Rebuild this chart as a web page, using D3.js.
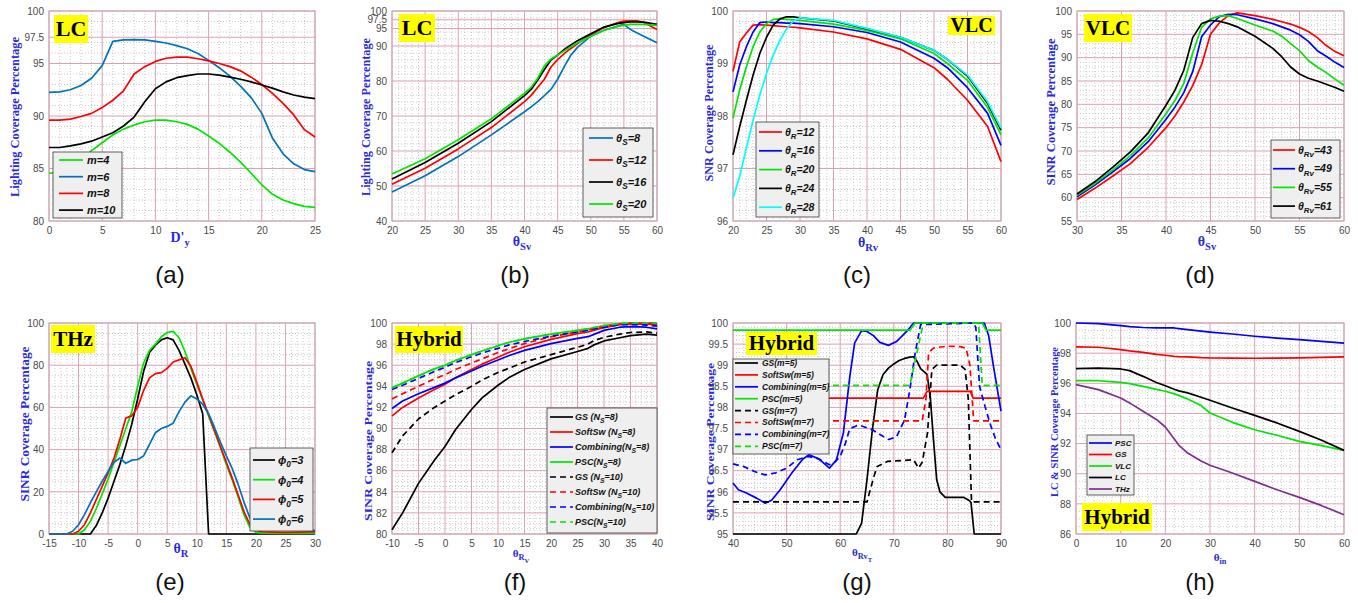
<!DOCTYPE html>
<html><head><meta charset="utf-8">
<script src="https://cdn.jsdelivr.net/npm/d3@7"></script>
<style>body{margin:0;background:#fff}svg{display:block}</style>
</head><body><svg id="c" width="1358" height="603"></svg>
<script>
// ---------------- DATA ----------------
// (a)
const aX = d3.range(0, 26);
const aM4 = [84.55,84.65,85.0,85.8,86.7,87.45,88.2,88.75,89.15,89.45,89.6,89.6,89.45,89.2,88.75,88.1,87.4,86.55,85.6,84.55,83.45,82.55,82.0,81.65,81.4,81.3];
const aM6 = [92.25,92.3,92.5,92.9,93.6,94.8,97.1,97.25,97.28,97.25,97.1,96.95,96.7,96.4,95.95,95.3,94.6,93.8,92.85,91.75,90.25,87.9,86.4,85.45,84.9,84.7];
const aM8 = [89.6,89.6,89.7,89.95,90.25,90.8,91.5,92.4,94.0,94.7,95.2,95.5,95.6,95.6,95.45,95.25,95.0,94.7,94.3,93.7,93.0,92.15,91.2,90.1,88.7,88.0];
const aM10 = [87.0,87.0,87.15,87.35,87.6,88.0,88.4,89.05,89.9,91.35,92.6,93.25,93.65,93.85,94.0,94.0,93.9,93.7,93.5,93.25,92.95,92.65,92.3,92.0,91.8,91.65];
const aLegend = ["m=4","m=6","m=8","m=10"];
const aXTicks = [0,5,10,15,20,25];
const aYTicks = [80,85,90,95,97.5,100];
// (b)
const bX = [20,25,30,35,40,41,42,43,44,45,46,47,48,50,52,54,55,56,57,58,60];
const bS8  = [48.3,52.9,58.4,64.6,71.2,72.6,74.1,75.8,77.6,80.5,84.1,87.4,89.6,92.8,94.5,95.6,96.2,94.7,93.7,92.8,90.9];
const bS12 = [50.5,55.1,60.6,66.7,74.1,75.9,78.2,80.5,84.0,86.1,87.8,89.3,90.7,93.2,95.3,96.6,97.1,97.2,97.2,96.7,94.7];
const bS16 = [52.0,56.7,62.2,68.4,75.8,77.6,80.3,83.3,86.0,87.4,89.0,90.3,91.5,93.5,95.4,96.4,96.7,96.9,96.9,96.8,96.2];
const bS20 = [53.4,57.8,63.2,69.2,76.5,78.2,80.8,84.3,86.3,87.4,88.6,89.8,90.9,92.8,94.5,95.6,95.9,96.2,96.2,96.2,95.9];
const bLegend = ["θ_{S}=8","θ_{S}=12","θ_{S}=16","θ_{S}=20"];
const bXTicks = [20,25,30,35,40,45,50,55,60];
const bYTicks = [40,50,60,70,80,90,95,97.5,100];
// (c)
const cX = [20,21,22,23,24,25,26,27,28,29,30,35,40,45,50,52,55,58,60];
const cR12 = [98.85,99.41,99.58,99.73,99.74,99.73,99.72,99.71,99.7,99.69,99.68,99.6,99.47,99.27,98.92,98.7,98.3,97.8,97.13];
const cR16 = [98.46,98.97,99.32,99.6,99.78,99.79,99.78,99.78,99.77,99.77,99.76,99.7,99.59,99.41,99.1,98.92,98.54,98.05,97.44];
const cR20 = [97.96,98.5,98.94,99.32,99.6,99.76,99.84,99.85,99.84,99.83,99.82,99.75,99.63,99.47,99.19,99.0,98.68,98.16,97.64];
const cR24 = [97.26,97.8,98.3,98.78,99.19,99.5,99.73,99.85,99.89,99.89,99.87,99.81,99.66,99.5,99.25,99.08,98.76,98.24,97.73];
const cR28 = [96.44,96.85,97.39,97.92,98.4,98.81,99.16,99.44,99.66,99.81,99.87,99.82,99.67,99.5,99.25,99.08,98.78,98.27,97.77];
const cLegend = ["θ_{R}=12","θ_{R}=16","θ_{R}=20","θ_{R}=24","θ_{R}=28"];
const cXTicks = [20,25,30,35,40,45,50,55,60];
const cYTicks = [96,97,98,99,100];
// (d)
const dX = [30,32,34,36,38,40,41,42,43,44,45,46,47,48,50,52,53,54,55,56,57,58,59,60];
const dR43 = [59.6,62.0,64.6,67.3,70.8,75.0,77.5,80.5,84.0,88.5,95.0,97.5,99.0,99.6,99.0,98.2,97.7,97.2,96.5,95.6,94.3,92.6,91.3,90.4];
const dR49 = [60.2,62.7,65.5,68.4,72.0,76.8,79.4,82.5,87.0,94.5,97.0,98.8,99.3,99.2,98.3,97.3,96.6,95.9,94.9,93.5,91.5,90.3,89.0,87.9];
const dR55 = [60.5,63.0,65.9,69.0,72.8,78.0,80.8,84.5,91.0,96.5,98.3,98.9,99.0,98.4,97.0,95.7,94.6,93.0,91.5,89.4,88.0,86.8,85.4,84.1];
const dR61 = [60.8,63.4,66.5,69.8,73.9,79.8,83.0,87.3,94.3,97.3,98.0,97.8,97.3,96.6,94.6,92.0,90.2,88.0,86.5,85.6,85.0,84.3,83.6,82.8];
const dLegend = ["θ_{Rv}=43","θ_{Rv}=49","θ_{Rv}=55","θ_{Rv}=61"];
const dXTicks = [30,35,40,45,50,55,60];
const dYTicks = [55,60,65,70,75,80,85,90,95,100];
// (e)
const eX = [-15,-12,-11,-10,-9,-8,-7,-6,-5,-4,-3,-2,-1,0,1,2,3,4,5,6,7,8,9,10,11,12,13,14,15,16,17,18,19,20,21,25,30];
const eP3 = [0,0,0,0,0,0,4,10,17,25,33,42,52,64,77,86,89.5,92,93,92,87,80.5,74,66,57,0,0,0,0,0,0,0,0,0,0,0,0];
const eP4 = [0,0,0,0,2,6,12,19,26,34,42,50,58,70,81,87,90,93.5,95.5,96,93,86.5,78.5,71,63.5,56,48.5,41,33,25.5,17.5,9,3,0.8,0.4,0.3,0.3];
const eP5 = [0,0,0,1.3,4.4,10,16.3,22.6,29,36,45,55,56,60,68,74,76,76.5,78.5,81.5,82.5,83.5,79.5,72,64,56.5,49,41.5,34,26.5,18.5,10.5,4.5,1.8,1.0,0.8,1.0];
const eP6 = [0,0,1.3,4.4,9.2,14.7,20,25,29.7,34,36,33.5,35,35.3,37,42.5,48,50,51,52.5,58,62.5,65.5,64,61.5,57,50.5,43.5,37,31,23.5,15,7.5,3.5,2.2,1.8,1.7];
const eLegend = ["ϕ_{0}=3","ϕ_{0}=4","ϕ_{0}=5","ϕ_{0}=6"];
const eXTicks = [-15,-10,-5,0,5,10,15,20,25,30];
const eYTicks = [0,20,40,60,80,100];
// (f)
const fX = [-10,-8,-5,-2,0,2,5,7,10,12,15,20,25,27,28,30,33,35,38,40];
const fGS8   = [80.4,82.0,84.8,87.0,88.3,89.9,91.8,92.9,94.1,94.8,95.6,96.6,97.3,97.6,97.9,98.3,98.6,98.8,98.95,98.85];
const fSoft8 = [91.2,92.0,92.9,93.7,94.2,94.8,95.6,96.1,96.75,97.2,97.75,98.45,99.0,99.15,99.3,99.55,99.85,99.9,99.9,99.85];
const fComb8 = [91.9,92.6,93.3,93.9,94.3,94.8,95.45,95.9,96.5,96.9,97.4,98.05,98.55,98.7,98.9,99.3,99.6,99.65,99.6,99.45];
const fPSC8  = [93.85,94.3,95.0,95.65,96.0,96.45,97.0,97.35,97.85,98.15,98.5,98.95,99.3,99.45,99.55,99.75,99.95,100,100,100];
const fGS10  = [87.7,89.3,90.9,92.0,92.6,93.2,94.0,94.6,95.3,95.7,96.3,97.0,97.7,98.0,98.3,98.65,98.95,99.1,99.15,99.05];
const fSoft10= [92.8,93.3,94.0,94.7,95.1,95.6,96.2,96.6,97.2,97.55,98.05,98.7,99.15,99.3,99.45,99.65,99.9,100,100,99.95];
const fComb10= [93.7,94.1,94.75,95.4,95.8,96.25,96.8,97.15,97.6,97.9,98.25,98.75,99.15,99.3,99.45,99.6,99.85,99.85,99.8,99.7];
const fPSC10 = [93.85,94.3,95.0,95.65,96.0,96.45,97.0,97.35,97.85,98.15,98.5,98.95,99.3,99.45,99.55,99.75,99.95,100,100,100];
const fLegend = ["GS (N_{S}=8)","SoftSw (N_{S}=8)","Combining(N_{S}=8)","PSC(N_{S}=8)","GS (N_{S}=10)","SoftSw (N_{S}=10)","Combining(N_{S}=10)","PSC(N_{S}=10)"];
const fXTicks = [-10,-5,0,5,10,15,20,25,30,35,40];
const fYTicks = [80,82,84,86,88,90,92,94,96,98,100];
// (g)
const gGS5X = [40,63,64,65,66,67,68,69,70,71,72,73,73.7,74.3,75,76.2,76.8,77.4,78,78.6,79.6,83,84,84.4,85,90];
const gGS5Y = [95,95,95.26,96.29,97.47,98.42,98.78,98.93,99.03,99.11,99.16,99.19,99.2,99.1,98.92,98.78,98.26,97.24,96.29,96.0,95.87,95.87,95.8,95.75,95,95];
const gSoft5X = [40,75.5,76.2,84.3,84.8,90];
const gSoft5Y = [98.22,98.22,98.38,98.38,98.22,98.22];
const gComb5X = [40,41,42.5,44.4,46,47.2,48.8,51,53,54.2,56,58,59.3,60.6,61.8,62.7,64,65,66.2,67.4,69,70.5,72.4,73.7,86.9,87.7,88.6,90];
const gComb5Y = [96.21,96.05,95.97,95.85,95.73,95.8,96.05,96.45,96.77,96.88,96.78,96.56,96.76,97.4,98.74,99.53,99.82,99.8,99.7,99.54,99.47,99.56,99.8,100,100,99.7,98.97,97.91];
const gPSC5X = [40,73,74,86.5,87.2,90];
const gPSC5Y = [99.83,99.83,100,100,99.83,99.83];
const gGS7X = [40,65,66.3,66.9,68.8,73.7,74.6,75.3,76.3,77.1,78,82.4,83.3,83.9,84.5,90];
const gGS7Y = [95.76,95.76,96.37,96.6,96.72,96.76,96.56,96.7,97.4,98.9,99.0,99.0,98.9,98.2,95.76,95.76];
const gSoft7X = [40,75.3,76,76.5,77.5,80,82.4,83.5,84.2,84.9,90];
const gSoft7Y = [97.68,97.68,98.2,99.3,99.41,99.45,99.44,99.4,99.0,97.68,97.68];
const gComb7X = [40,42,44,46,48,50,52,54,56,58,59,60,61,61.8,63,64,66,67.5,69,70.5,72,73,74,75,84.8,85.3,86,87,88,89,90];
const gComb7Y = [96.66,96.6,96.48,96.4,96.45,96.56,96.76,96.84,96.78,96.64,96.7,96.84,97.16,97.5,97.56,97.56,97.47,97.35,97.24,97.3,97.7,98.42,99.3,99.96,100,99.9,98.5,98.03,97.6,97.25,97.0];
const gPSC7X = [40,73,75.5,85.8,86.5,90];
const gPSC7Y = [98.52,98.52,100,100,98.52,98.52];
const gLegend = ["GS(m=5)","SoftSw(m=5)","Combining(m=5)","PSC(m=5)","GS(m=7)","SoftSw(m=7)","Combining(m=7)","PSC(m=7)"];
const gXTicks = [40,50,60,70,80,90];
const gYTicks = [95,95.5,96,96.5,97,97.5,98,98.5,99,99.5,100];
// (h)
const hX = [0,5,10,12,15,18,20,22,23,25,28,30,35,40,45,50,55,60];
const hPSC = [100,99.96,99.82,99.76,99.7,99.68,99.67,99.67,99.63,99.56,99.46,99.4,99.27,99.12,99.0,98.9,98.78,98.67];
const hGS  = [98.41,98.39,98.23,98.15,98.05,97.92,97.86,97.79,97.77,97.75,97.7,97.68,97.67,97.66,97.67,97.68,97.72,97.75];
const hVLC = [96.17,96.17,96.06,95.98,95.8,95.6,95.47,95.3,95.2,94.96,94.52,94.03,93.41,92.92,92.55,92.15,91.86,91.55];
const hLC  = [96.97,97.0,96.95,96.84,96.46,96.05,95.84,95.6,95.5,95.36,95.07,94.87,94.36,93.87,93.37,92.81,92.22,91.55];
const hTHz = [95.91,95.58,95.02,94.7,94.14,93.6,93.1,92.3,91.9,91.37,90.85,90.56,90.05,89.49,88.94,88.43,87.88,87.28];
const hLegend = ["PSC","GS","VLC","LC","THz"];
const hXTicks = [0,10,20,30,40,50,60];
const hYTicks = [86,88,90,92,94,96,98,100];

const tags = ["LC","LC","VLC","VLC","THz","Hybrid","Hybrid","Hybrid"];
const yTitles = ["Lighting Coverage Percentage","Lighting Coverage Percentage","SNR Coverage Percentage","SINR Coverage Percentage","SINR Coverage Percentage","SINR Coverage Percentage","SINR Coverage Percentage","LC & SINR Coverage Percentage"];
const xTitles = ["D'_{y}","θ_{Sv}","θ_{Rv}","θ_{Sv}","θ_{R}","θ_{R}__{V}","θ_{Rv}__{T}","θ_{in}"];
const letters = ["(a)","(b)","(c)","(d)","(e)","(f)","(g)","(h)"];

// ---------------- STYLE / LAYOUT ----------------
const MB = "#0072BD", BL = "#0000ff", RD = "#ff0000", GR = "#00e600", BK = "#000000", CY = "#00ffff", PU = "#7E2F8E";
const svg = d3.select("#c");

const panels = [
 {l:49,r:315,t:11,b:221, xd:[0,25], yd:[80,100], xt:aXTicks, yt:aYTicks, xm:1, ym:1,
  series:[{x:aX,y:aM4,c:GR},{x:aX,y:aM6,c:MB},{x:aX,y:aM8,c:RD},{x:aX,y:aM10,c:BK}], leg:aLegend,
  lg:{x:53,y:152,w:69,h:66,y0:160,dy:16.7,l1:59,l2:83,tx:87,fs:11},
  tag:{x:54,y:15,w:34,h:28,fs:22}, yl:{x:15,cy:117,len:160,fs:12}, xl:{x:180,y:242,fs:14}, lt:{x:170}},
 {l:392,r:657,t:11,b:221, xd:[20,60], yd:[40,100], xt:bXTicks, yt:bYTicks, xm:1, ym:2,
  series:[{x:bX,y:bS8,c:MB},{x:bX,y:bS12,c:RD},{x:bX,y:bS16,c:BK},{x:bX,y:bS20,c:GR}], leg:bLegend,
  lg:{x:583,y:128,w:70,h:89,y0:138,dy:22,l1:589,l2:613,tx:616,fs:11},
  tag:{x:399,y:14,w:36,h:28,fs:22}, yl:{x:366,cy:117,len:158,fs:12}, xl:{x:522,y:246,fs:14}, lt:{x:515}},
 {l:733,r:1001,t:11,b:221, xd:[20,60], yd:[96,100], xt:cXTicks, yt:cYTicks, xm:1, ym:0.2,
  series:[{x:cX,y:cR12,c:RD},{x:cX,y:cR16,c:BL},{x:cX,y:cR20,c:GR},{x:cX,y:cR24,c:BK},{x:cX,y:cR28,c:CY}], leg:cLegend,
  lg:{x:756,y:122,w:63,h:95,y0:132,dy:18.8,l1:759,l2:782,tx:785,fs:10.5},
  tag:{x:948,y:16,w:47,h:19,fs:20}, yl:{x:709,cy:113,len:137,fs:12.5}, xl:{x:868,y:247,fs:14}, lt:{x:857}},
 {l:1077,r:1344,t:11,b:221, xd:[30,60], yd:[55,100], xt:dXTicks, yt:dYTicks, xm:1, ym:1,
  series:[{x:dX,y:dR43,c:RD},{x:dX,y:dR49,c:BL},{x:dX,y:dR55,c:GR},{x:dX,y:dR61,c:BK}], leg:dLegend,
  lg:{x:1271,y:140,w:69,h:78,y0:150,dy:18.7,l1:1273,l2:1295,tx:1298,fs:10.5},
  tag:{x:1084,y:14,w:48,h:28,fs:21}, yl:{x:1051,cy:112,len:147,fs:12.5}, xl:{x:1207,y:246,fs:14}, lt:{x:1200}},
 {l:49,r:315,t:323,b:534, xd:[-15,30], yd:[0,100], xt:eXTicks, yt:eYTicks, xm:1, ym:5,
  series:[{x:eX,y:eP3,c:BK},{x:eX,y:eP4,c:GR},{x:eX,y:eP5,c:RD},{x:eX,y:eP6,c:MB}], leg:eLegend,
  lg:{x:250,y:448,w:63,h:83,y0:460,dy:19.7,l1:253,l2:275,tx:278,fs:11},
  tag:{x:51,y:325,w:44,h:28,fs:21}, yl:{x:25,cy:424,len:155,fs:12.5}, xl:{x:181,y:553,fs:14}, lt:{x:170}},
 {l:392,r:657,t:323,b:534, xd:[-10,40], yd:[80,100], xt:fXTicks, yt:fYTicks, xm:1, ym:0.5,
  series:[{x:fX,y:fPSC8,c:GR},{x:fX,y:fGS8,c:BK},{x:fX,y:fSoft8,c:RD},{x:fX,y:fComb8,c:BL},
          {x:fX,y:fGS10,c:BK,d:1},{x:fX,y:fSoft10,c:RD,d:1},{x:fX,y:fComb10,c:BL,d:1},{x:fX,y:fPSC10,c:GR,d:1}],
  legOrder:[1,2,3,0,4,5,6,7], leg:fLegend,
  lg:{x:547,y:408,w:110,h:125,y0:417,dy:15,l1:550,l2:573,tx:575,fs:9},
  tag:{x:395,y:326,w:68,h:27,fs:21}, yl:{x:368,cy:441,len:160,fs:11}, xl:{x:521,y:557,fs:11}, lt:{x:515}},
 {l:733,r:1001,t:323,b:534, xd:[40,90], yd:[95,100], xt:gXTicks, yt:gYTicks, xm:2, ym:0.1,
  series:[{x:gGS5X,y:gGS5Y,c:BK},{x:gSoft5X,y:gSoft5Y,c:RD},{x:gComb5X,y:gComb5Y,c:BL},{x:gPSC5X,y:gPSC5Y,c:GR},
          {x:gGS7X,y:gGS7Y,c:BK,d:1},{x:gSoft7X,y:gSoft7Y,c:RD,d:1},{x:gComb7X,y:gComb7Y,c:BL,d:1},{x:gPSC7X,y:gPSC7Y,c:GR,d:1}],
  leg:gLegend,
  lg:{x:733,y:359,w:96,h:95,y0:363,dy:11.9,l1:735,l2:758,tx:762,fs:8.5},
  tag:{x:746,y:332,w:71,h:23,fs:21}, yl:{x:710,cy:442,len:158,fs:11}, xl:{x:862,y:556,fs:11}, lt:{x:857}},
 {l:1076,r:1344,t:323,b:534, xd:[0,60], yd:[86,100], xt:hXTicks, yt:hYTicks, xm:2, ym:0.5,
  series:[{x:hX,y:hPSC,c:BL},{x:hX,y:hGS,c:RD},{x:hX,y:hVLC,c:GR},{x:hX,y:hLC,c:BK},{x:hX,y:hTHz,c:PU}], leg:hLegend,
  lg:{x:1087,y:435,w:47,h:60,y0:443,dy:11.5,l1:1089,l2:1112,tx:1115,fs:8},
  tag:{x:1082,y:503,w:70,h:28,fs:21}, yl:{x:1054,cy:422,len:150,fs:10.5}, xl:{x:1220,y:561,fs:11}, lt:{x:1200}}
];

function rich(sel, str, fs) {
  const parts = str.split(/(__\{[^}]*\}|_\{[^}]*\})/).filter(s => s.length);
  let cur = 0;
  parts.forEach(p => {
    let lvl = 0, t = p;
    if (p.startsWith("__{")) { lvl = 2; t = p.slice(3, -1); }
    else if (p.startsWith("_{")) { lvl = 1; t = p.slice(2, -1); }
    const off = lvl === 0 ? 0 : (lvl === 1 ? fs * 0.3 : fs * 0.55);
    const size = lvl === 0 ? fs : (lvl === 1 ? fs * 0.75 : fs * 0.6);
    sel.append("tspan").attr("dy", off - cur).attr("font-size", size).text(t);
    cur = off;
  });
}
function steps(a, b, s) {
  const n = Math.round((b - a) / s);
  return d3.range(n + 1).map(i => +(a + i * s).toFixed(6));
}

panels.forEach((p, i) => {
  const g = svg.append("g");
  const x = d3.scaleLinear().domain(p.xd).range([p.l, p.r]);
  const y = d3.scaleLinear().domain(p.yd).range([p.b, p.t]);
  const isMaj = (arr, v) => arr.some(t => Math.abs(t - v) < 1e-6);
  // minor grid
  const mg = g.append("g").attr("stroke", "#bdbdbd").attr("stroke-width", 0.8).attr("stroke-dasharray", "1,2");
  steps(p.xd[0], p.xd[1], p.xm).filter(v => !isMaj(p.xt, v)).forEach(v =>
    mg.append("line").attr("x1", x(v)).attr("x2", x(v)).attr("y1", p.t).attr("y2", p.b));
  steps(p.yd[0], p.yd[1], p.ym).filter(v => !isMaj(p.yt, v)).forEach(v =>
    mg.append("line").attr("y1", y(v)).attr("y2", y(v)).attr("x1", p.l).attr("x2", p.r));
  // major grid
  const Mg = g.append("g").attr("stroke", "#dba2b2").attr("stroke-width", 1);
  p.xt.forEach(v => Mg.append("line").attr("x1", x(v)).attr("x2", x(v)).attr("y1", p.t).attr("y2", p.b));
  p.yt.forEach(v => Mg.append("line").attr("y1", y(v)).attr("y2", y(v)).attr("x1", p.l).attr("x2", p.r));
  g.append("rect").attr("x", p.l).attr("y", p.t).attr("width", p.r - p.l).attr("height", p.b - p.t)
    .attr("fill", "none").attr("stroke", "#c9a6b0").attr("stroke-width", 1);
  // axes (labels only)
  const ax = g.append("g").attr("transform", `translate(0,${p.b})`)
    .call(d3.axisBottom(x).tickValues(p.xt).tickSize(0).tickPadding(6).tickFormat(d => String(d)));
  const ay = g.append("g").attr("transform", `translate(${p.l},0)`)
    .call(d3.axisLeft(y).tickValues(p.yt).tickSize(0).tickPadding(5).tickFormat(d => String(d)));
  [ax, ay].forEach(a => {
    a.select(".domain").remove();
    a.selectAll("text").attr("font-family", "Liberation Sans, Arial, sans-serif").attr("font-size", 10).attr("fill", "#4a4a4a");
  });
  // clip
  const cid = "clip" + i;
  svg.append("clipPath").attr("id", cid).append("rect")
    .attr("x", p.l - 1).attr("y", p.t - 2).attr("width", p.r - p.l + 2).attr("height", p.b - p.t + 4);
  const lines = g.append("g").attr("clip-path", `url(#${cid})`);
  const lg = d3.line().x(d => x(d[0])).y(d => y(d[1]));
  p.series.forEach(s => {
    lines.append("path").datum(d3.zip(s.x, s.y)).attr("d", lg)
      .attr("fill", "none").attr("stroke", s.c).attr("stroke-width", 1.7)
      .attr("stroke-linejoin", "round")
      .attr("stroke-dasharray", s.d ? "6,4" : null);
  });
  // legend
  const L = p.lg;
  const lgG = g.append("g");
  lgG.append("rect").attr("x", L.x).attr("y", L.y).attr("width", L.w).attr("height", L.h)
    .attr("fill", "#efefef").attr("stroke", "#3a3a3a").attr("stroke-width", 0.8);
  const order = p.legOrder || p.series.map((_, k) => k);
  order.forEach((si, k) => {
    const s = p.series[si];
    const yy = L.y0 + k * L.dy;
    lgG.append("line").attr("x1", L.l1).attr("x2", L.l2).attr("y1", yy).attr("y2", yy)
      .attr("stroke", s.c).attr("stroke-width", 1.7).attr("stroke-dasharray", s.d ? "6,4" : null);
    const t = lgG.append("text").attr("x", L.tx).attr("y", yy + L.fs * 0.35)
      .attr("font-family", "Liberation Sans, Arial, sans-serif").attr("font-weight", "bold")
      .attr("font-style", "italic").attr("fill", "#111");
    rich(t, p.leg[k], L.fs);
  });
  // tag
  const T = p.tag;
  g.append("rect").attr("x", T.x).attr("y", T.y).attr("width", T.w).attr("height", T.h).attr("fill", "#ffff00");
  g.append("text").attr("x", T.x + T.w / 2).attr("y", T.y + T.h / 2 + T.fs * 0.33)
    .attr("text-anchor", "middle").attr("font-family", "Liberation Serif, Times New Roman, serif")
    .attr("font-weight", "bold").attr("font-size", T.fs).attr("fill", "#000").text(tags[i]);
  // y title
  g.append("text").attr("transform", `translate(${p.yl.x},${p.yl.cy}) rotate(-90)`)
    .attr("x", -p.yl.len / 2).attr("dominant-baseline", "central")
    .attr("textLength", p.yl.len).attr("lengthAdjust", "spacingAndGlyphs")
    .attr("font-family", "Liberation Serif, Times New Roman, serif").attr("font-weight", "bold")
    .attr("font-size", p.yl.fs).attr("fill", "#2a2ad8").text(yTitles[i]);
  // x title
  const xt = g.append("text").attr("x", p.xl.x).attr("y", p.xl.y).attr("text-anchor", "middle")
    .attr("font-family", "Liberation Serif, Times New Roman, serif").attr("font-weight", "bold")
    .attr("fill", "#2a2ad8");
  rich(xt, xTitles[i], p.xl.fs);
  // subfigure letter
  g.append("text").attr("x", p.lt.x).attr("y", i < 4 ? 283 : 590).attr("text-anchor", "middle")
    .attr("font-family", "Liberation Sans, Arial, sans-serif").attr("font-size", 24).attr("fill", "#111")
    .text(letters[i]);
});
</script></body></html>
